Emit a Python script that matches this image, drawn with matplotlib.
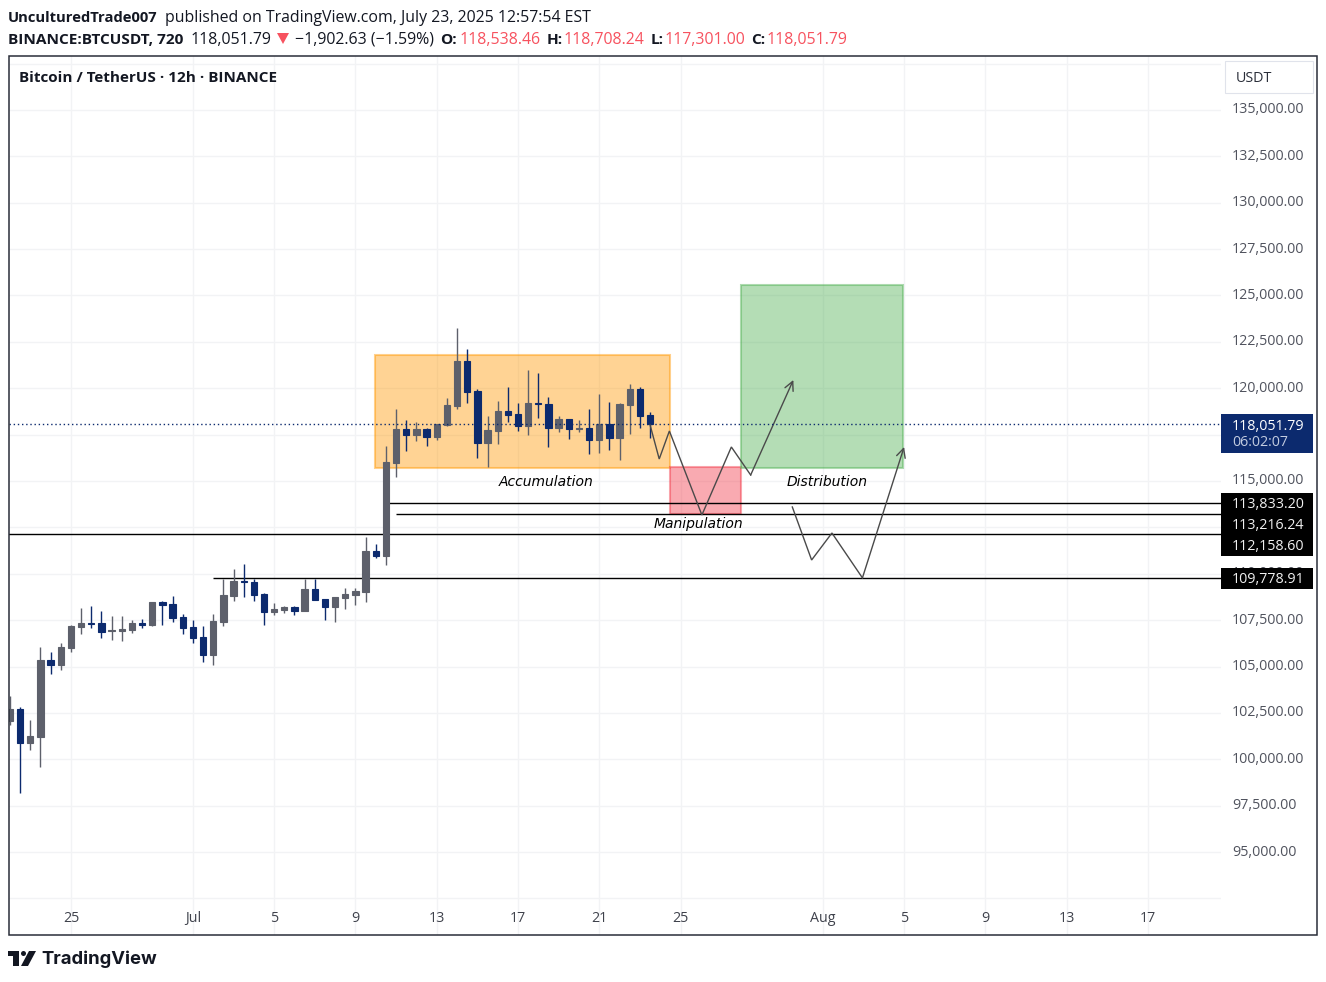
import matplotlib
matplotlib.use("Agg")
import matplotlib.pyplot as plt
from matplotlib.patches import Rectangle, Polygon, Ellipse
from matplotlib.transforms import ScaledTranslation

plt.rcParams['font.family'] = ['Open Sans', 'DejaVu Sans']

W, H = 1326, 982

# 12h candles, first one is Jun 22 00:00
opens = [102080, 102711, 100894, 101220, 105352, 105082, 105999, 107131, 107346, 107346,
         106915, 106915, 106969, 107346, 107238, 108478, 108370, 107670, 107131, 106592,
         105621, 107400, 108801, 109610, 109556, 108909, 107939, 108047, 108209, 107993,
         109179, 108640, 108209, 108694, 108855, 109017, 111227, 110957, 115970, 117803,
         117479, 117803, 117372, 118018, 119043, 121468, 119851, 117048, 117695, 118773,
         118611, 117965, 119204, 119150, 117857, 118342, 117803, 117857, 117210, 118072,
         117318, 119096, 119959, 118538.46]
highs = [103411, 102819, 102118, 106053, 105783, 106268, 107238, 108155, 108262, 107993,
         107723, 107723, 107508, 107562, 108478, 108532, 108801, 107831, 107508, 107184,
         107831, 109718, 110257, 110526, 109718, 108963, 108424, 108262, 108262, 109718,
         109718, 108640, 108748, 109233, 109233, 111982, 111604, 116887, 118881, 118288,
         118180, 117857, 118072, 119474, 123247, 122115, 119959, 118504, 119312, 120067,
         119204, 120983, 120821, 119528, 118504, 118342, 118288, 118881, 119689, 119258,
         119204, 120228, 120067, 118708.24]
lows = [101848, 98199, 100501, 99601, 104597, 104813, 105783, 106753, 107077, 106538,
        106430, 106376, 106807, 107077, 107184, 107238, 107400, 106753, 106268, 105244,
        105082, 107184, 108532, 108748, 108532, 107238, 107777, 107885, 107777, 107993,
        108586, 107508, 107400, 108101, 108316, 108478, 110850, 110472, 115216, 116617,
        117156, 116887, 117210, 117965, 118881, 119204, 116240, 115755, 116994, 118180,
        117695, 117479, 118396, 116833, 117641, 117264, 117641, 116455, 116509, 116671,
        116132, 117533, 117857, 117301.00]
closes = [102711, 100894, 101255, 105352, 105082, 106053, 107184, 107346, 107292, 106877,
          106969, 107023, 107346, 107238, 108478, 108316, 107616, 107077, 106538, 105621,
          107454, 108855, 109610, 109556, 108855, 107939, 108101, 108209, 107993, 109179,
          108586, 108209, 108748, 108909, 109071, 111227, 110957, 116024, 117803, 117479,
          117803, 117372, 118072, 119096, 121468, 119797, 117048, 117749, 118773, 118557,
          117965, 119204, 119150, 117857, 118342, 117803, 117857, 117210, 118072, 117318,
          119150, 119959, 118504, 118051.79]

tick_pos = [6, 18, 26, 34, 42, 50, 58, 66, 80, 88, 96, 104, 112]
tick_labels = ['25', 'Jul', '5', '9', '13', '17', '21', '25', 'Aug', '5', '9', '13', '17']
price_ticks = [p * 2500 for p in range(37, 56)]
# no label in the reference: off the scale or behind a price tag
unlabelled = [92500, 112500, 117500, 137500]

last_price = 118051.79
level_prices = [113833.20, 113216.24, 112158.60, 109778.91]
level_starts = [37.2, 38, -1, 20]
level_tags = ['113,833.20', '113,216.24', '112,158.60', '109,778.91']

acc_box = [35.9, 65.0, 115701, 121791]
man_box = [65.0, 71.95, 113216, 115755]
dis_box = [71.95, 87.9, 115701, 125564]

path1_x = [63.0, 63.9, 64.9, 68.1, 71.0, 72.9, 77.1]
path1_p = [118018, 116186, 117695, 113167, 116833, 115323, 120444]
path2_x = [77.0, 78.9, 80.9, 83.9, 88.0]
path2_p = [113599, 110742, 112197, 109778, 116833]


def fx(x):
    return x / W


def fy(y):
    return 1 - y / H


def fig_text(x, y, s, color='#131722', size=11.4, weight='normal', ha='left'):
    # matplotlib centres 1-2 px higher than the browser text
    fig.text(fx(x), fy(y + 2), s, color=color, fontsize=size, fontweight=weight,
             ha=ha, va='center', zorder=8)


def fig_rect(x0, y0, x1, y1, **kw):
    fig.add_artist(Rectangle((fx(x0), fy(y1)), fx(x1 - x0), (y1 - y0) / H,
                             transform=fig.transFigure, **kw))


fig = plt.figure(figsize=(W / 100, H / 100), dpi=100, facecolor='white')
ax = fig.add_axes([fx(9), fy(935), fx(1221 - 9), (935 - 56) / H])

# pixel to price scale: 53.9 per px, 115000 at y=481
ax.set_ylim(115000 + (481 - 935) * 53.9, 115000 + (481 - 56) * 53.9)
ax.set_xlim((9 - 10) / 10.16, (1221 - 10) / 10.16)

for s in ax.spines.values():
    s.set_visible(False)
ax.grid(True, color='#f2f3f5', lw=1.0)
ax.set_axisbelow(True)

ax.set_xticks(tick_pos)
ax.set_xticklabels(tick_labels, fontsize=10.3, color='#3f424c')
ax.yaxis.tick_right()
ax.set_yticks(price_ticks)
ax.set_yticklabels(['' if p in unlabelled else f'{p:,.2f}' for p in price_ticks],
                   fontsize=10.3, color='#50535e')
ax.tick_params(axis='both', length=0)
ax.tick_params(axis='x', pad=-11.6)
ax.tick_params(axis='y', pad=8)
for lab in ax.get_xticklabels():
    lab.set_verticalalignment('center')
# price labels sit 2 px above their grid line
up = ScaledTranslation(0, 2 / 100, fig.dpi_scale_trans)
for lab in ax.get_yticklabels():
    lab.set_transform(lab.get_transform() + up)

# boxes
for box, col in [(acc_box, (1, 0.596, 0)), (man_box, (0.949, 0.212, 0.271)), (dis_box, (0.298, 0.686, 0.314))]:
    ax.add_patch(Rectangle((box[0], box[2]), box[1] - box[0], box[3] - box[2],
                           facecolor=col + (0.42,), edgecolor=col + (0.45,), lw=1.5, zorder=1.6))

# horizontal rays
for p, start in zip(level_prices, level_starts):
    ax.hlines(p, start, 125, color='black', lw=1.0, zorder=3)
ax.axhline(last_price, color='#0c2a6e', lw=1.0, ls=(0, (1, 2)), zorder=6)

# candles
gray = '#5d606b'
navy = '#0c2a6e'
for i in range(len(opens)):
    c = gray if closes[i] >= opens[i] else navy
    ax.vlines(i, lows[i], highs[i], color=c, lw=1.0, zorder=4)
    ax.bar(i, abs(closes[i] - opens[i]), bottom=min(opens[i], closes[i]), width=0.62,
           color=c, edgecolor=c, lw=0.8, zorder=5)

# projected paths
for xs, ps in [(path1_x, path1_p), (path2_x, path2_p)]:
    ax.plot(xs[:-1], ps[:-1], color='#4a4a4a', lw=1.0, zorder=5, solid_joinstyle='miter')
    ax.annotate('', xy=(xs[-1], ps[-1]), xytext=(xs[-2], ps[-2]), zorder=5,
                arrowprops=dict(arrowstyle='->', color='#4a4a4a', lw=1.0, mutation_scale=16,
                                shrinkA=0, shrinkB=0))

for name, x, p in [('Accumulation', 52.8, 114950), ('Manipulation', 67.8, 112680), ('Distribution', 80.4, 114950)]:
    ax.text(x, p, name, family='DejaVu Sans', style='italic', fontsize=10, color='black',
            ha='center', va='center', zorder=6)

# frame
fig_rect(9, 56, 1317, 935, facecolor='none', edgecolor='#2a2e39', lw=1.1, zorder=7)

# usd box
fig_rect(1225, 61, 1313, 93, facecolor='white', edgecolor='#e0e3eb', lw=0.8, zorder=7)
fig_text(1236, 77, 'USDT', color='#2a2e39', size=10.3)

# price tags
fig_rect(1221, 414, 1313, 453, facecolor='#0c2a6e', edgecolor='none', zorder=7)
fig_text(1232, 424, '118,051.79', color='white', size=10.3)
fig_text(1232, 441, '06:02:07', color='#c3cce0', size=10.3)
fig_rect(1221, 493, 1313, 556, facecolor='black', edgecolor='none', zorder=7)
fig_rect(1221, 568, 1313, 589, facecolor='black', edgecolor='none', zorder=7)
for tag, y in zip(level_tags, [503, 523.5, 544.5, 577.5]):
    fig_text(1232, y, tag, color='#f0f0f0', size=10.3)

# header
red = '#f7525f'
fig_text(8, 16, 'UnculturedTrade007', weight='bold', size=10.6)
fig_text(165, 16, 'published on TradingView.com, July 23, 2025 12:57:54 EST')
fig_text(8, 38, 'BINANCE:BTCUSDT, 720', weight='bold', size=11.1)
fig_text(191, 38, '118,051.79')
fig.add_artist(Polygon([(fx(277), fy(33)), (fx(289), fy(33)), (fx(283), fy(44))],
                       transform=fig.transFigure, facecolor=red, edgecolor='none'))
fig_text(295, 38, '\u22121,902.63 (\u22121.59%)')
for x, s in [(440, 'O:'), (547, 'H:'), (651, 'L:'), (751, 'C:')]:
    fig_text(x, 38, s, weight='bold', size=11.1)
for x, s in [(460, '118,538.46'), (564, '118,708.24'), (665, '117,301.00'), (767, '118,051.79')]:
    fig_text(x, 38, s, color=red)
fig_text(19, 76, 'Bitcoin / TetherUS \u00b7 12h \u00b7 BINANCE', weight='bold', size=11)

# logo
logo = '#131722'
fig.add_artist(Polygon([(fx(8), fy(951)), (fx(19), fy(951)), (fx(19), fy(966)), (fx(13), fy(966)),
                        (fx(13), fy(956)), (fx(8), fy(956))],
                       transform=fig.transFigure, facecolor=logo, edgecolor='none'))
fig.add_artist(Ellipse((fx(23.5), fy(953.5)), 5 / W, 5 / H, transform=fig.transFigure,
                       facecolor=logo, edgecolor='none'))
fig.add_artist(Polygon([(fx(29), fy(951)), (fx(36), fy(951)), (fx(28), fy(966)), (fx(21), fy(966))],
                       transform=fig.transFigure, facecolor=logo, edgecolor='none'))
fig.text(fx(41), fy(959), 'TradingView', family='Inter', fontsize=13.3, fontweight='bold',
         color=logo, ha='left', va='center')

fig.savefig('out.png', dpi=100)
